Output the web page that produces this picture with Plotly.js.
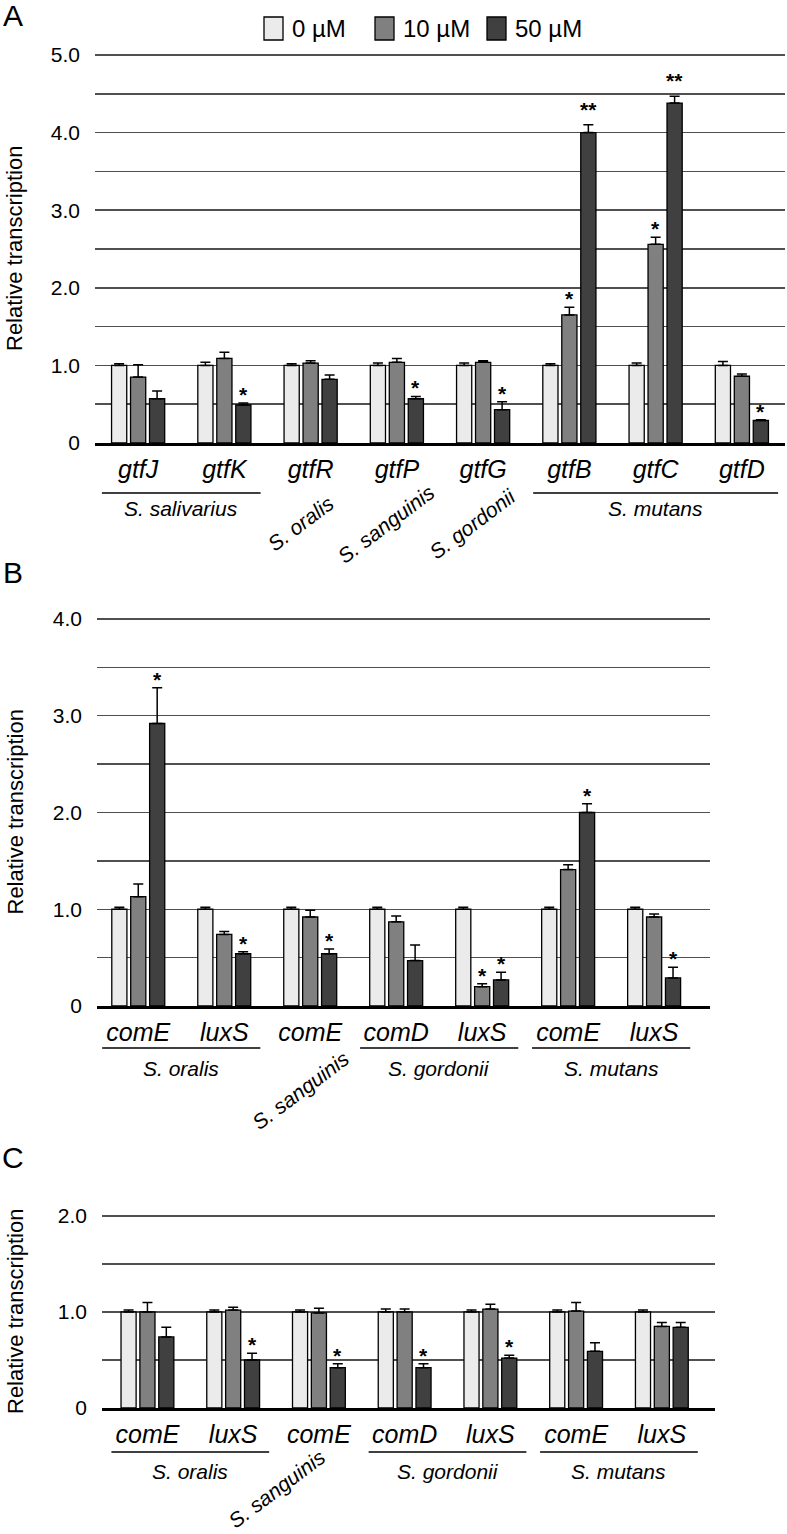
<!DOCTYPE html>
<html><head><meta charset="utf-8">
<script src="https://cdn.plot.ly/plotly-3.0.1.min.js"></script>
<style>body{margin:0;background:#fff}#chart{width:787px;height:1534px}</style>
</head><body><div id="chart"></div>
<script>
// ---------- data ----------
const seriesNames = ['0 µM', '10 µM', '50 µM'];
const seriesColors = ['#ebebeb', '#808080', '#404040'];

// Panel A
const genesA = ['gtfJ', 'gtfK', 'gtfR', 'gtfP', 'gtfG', 'gtfB', 'gtfC', 'gtfD'];
const a0 = [1.00, 1.00, 1.00, 1.00, 1.00, 1.00, 1.00, 1.00];
const a0err = [0.02, 0.04, 0.02, 0.03, 0.03, 0.02, 0.03, 0.05];
const a10 = [0.85, 1.09, 1.03, 1.04, 1.04, 1.65, 2.56, 0.86];
const a10err = [0.16, 0.08, 0.03, 0.05, 0.02, 0.10, 0.09, 0.03];
const a50 = [0.57, 0.49, 0.82, 0.57, 0.43, 4.00, 4.38, 0.29];
const a50err = [0.10, 0.025, 0.055, 0.03, 0.10, 0.10, 0.09, 0.01];
const sigA10 = ['', '', '', '', '', '*', '*', ''];
const sigA50 = ['', '*', '', '*', '*', '**', '**', '*'];
const speciesA = ['S. salivarius', 'S. oralis', 'S. sanguinis', 'S. gordonii', 'S. mutans'];
const speciesAStart = [0, 2, 3, 4, 5];
const speciesAEnd = [1, 2, 3, 4, 7];
const yTicksA = [0, 1, 2, 3, 4, 5];
const yTickTextA = ['0', '1.0', '2.0', '3.0', '4.0', '5.0'];

// Panel B
const genesB = ['comE', 'luxS', 'comE', 'comD', 'luxS', 'comE', 'luxS'];
const b0 = [1.00, 1.00, 1.00, 1.00, 1.00, 1.00, 1.00];
const b0err = [0.02, 0.02, 0.02, 0.02, 0.02, 0.02, 0.02];
const b10 = [1.13, 0.74, 0.92, 0.87, 0.20, 1.41, 0.92];
const b10err = [0.13, 0.03, 0.07, 0.06, 0.03, 0.05, 0.03];
const b50 = [2.92, 0.54, 0.54, 0.47, 0.27, 2.00, 0.29];
const b50err = [0.37, 0.02, 0.05, 0.16, 0.08, 0.09, 0.11];
const sigB10 = ['', '', '', '', '*', '', ''];
const sigB50 = ['*', '*', '*', '', '*', '*', '*'];
const speciesB = ['S. oralis', 'S. sanguinis', 'S. gordonii', 'S. mutans'];
const speciesBStart = [0, 2, 3, 5];
const speciesBEnd = [1, 2, 4, 6];
const yTicksB = [0, 1, 2, 3, 4];
const yTickTextB = ['0', '1.0', '2.0', '3.0', '4.0'];

// Panel C
const genesC = ['comE', 'luxS', 'comE', 'comD', 'luxS', 'comE', 'luxS'];
const c0 = [1.00, 1.00, 1.00, 1.00, 1.00, 1.00, 1.00];
const c0err = [0.02, 0.02, 0.02, 0.03, 0.02, 0.02, 0.02];
const c10 = [1.00, 1.02, 0.99, 1.00, 1.03, 1.01, 0.85];
const c10err = [0.10, 0.03, 0.05, 0.03, 0.05, 0.09, 0.04];
const c50 = [0.74, 0.50, 0.42, 0.42, 0.52, 0.59, 0.84];
const c50err = [0.10, 0.07, 0.04, 0.04, 0.03, 0.09, 0.05];
const sigC10 = ['', '', '', '', '', '', ''];
const sigC50 = ['', '*', '*', '*', '*', '', ''];
const speciesC = ['S. oralis', 'S. sanguinis', 'S. gordonii', 'S. mutans'];
const speciesCStart = [0, 2, 3, 5];
const speciesCEnd = [1, 2, 4, 6];
const yTicksC = [0, 1, 2];
const yTickTextC = ['0', '1.0', '2.0'];

const yTitle = 'Relative transcription';
const panelLetters = ['A', 'B', 'C'];

// ---------- layout helpers ----------
const W = 787, H = 1534;
const px = x => x / W;
const py = y => 1 - y / H;
const FONT = 'Liberation Sans, Arial, Helvetica, sans-serif';
const BARGAP = 0.34, GROUPGAP = 0.2;
const SLOT = (1 - BARGAP) / 3;
const YPAD = 0.02; // small headroom so the top gridline is drawn

const panels = [
  { genes: genesA, vals: [a0, a10, a50], errs: [a0err, a10err, a50err], sigs: [null, sigA10, sigA50],
    species: speciesA, sStart: speciesAStart, sEnd: speciesAEnd, yticks: yTicksA, yticktext: yTickTextA,
    box: { l: 95, r: 785, t: 55, b: 443 }, xr: [-0.5, 7.5], yr: [0, 5], letterY: 16, rotY: 524, rotDx: -10,
    lineY: 493, spY: 509 },
  { genes: genesB, vals: [b0, b10, b50], errs: [b0err, b10err, b50err], sigs: [null, sigB10, sigB50],
    species: speciesB, sStart: speciesBStart, sEnd: speciesBEnd, yticks: yTicksB, yticktext: yTickTextB,
    box: { l: 97, r: 710, t: 619, b: 1006 }, xr: [-0.48, 6.65], yr: [0, 4], letterY: 572, rotY: 1090, rotDx: -10,
    lineY: 1048, spY: 1068 },
  { genes: genesC, vals: [c0, c10, c50], errs: [c0err, c10err, c50err], sigs: [null, sigC10, sigC50],
    species: speciesC, sStart: speciesCStart, sEnd: speciesCEnd, yticks: yTicksC, yticktext: yTickTextC,
    box: { l: 102, r: 715, t: 1216, b: 1408 }, xr: [-0.53, 6.62], yr: [0, 2], letterY: 1157, rotY: 1488, rotDx: -42,
    lineY: 1452, spY: 1471 }
];

const traces = [];
const annotations = [];
const shapes = [];
const layout = {
  width: W, height: H, autosize: false,
  margin: { l: 0, r: 0, t: 0, b: 0, pad: 0 },
  paper_bgcolor: '#ffffff', plot_bgcolor: 'rgba(0,0,0,0)',
  barmode: 'group', bargap: BARGAP, bargroupgap: GROUPGAP,
  showlegend: false,
  font: { family: FONT, color: '#000', size: 20 }
};

panels.forEach((p, pi) => {
  const sfx = pi === 0 ? '' : String(pi + 1);
  const xref = 'x' + sfx, yref = 'y' + sfx;
  const xs = p.genes.map((g, i) => i);
  const ppu = (p.box.b - p.box.t) / (p.yr[1] - p.yr[0]);
  const topPx = p.box.t - YPAD * ppu;
  for (let k = 0; k < 3; k++) {
    traces.push({
      type: 'bar', x: xs, y: p.vals[k], name: seriesNames[k],
      xaxis: xref, yaxis: yref,
      marker: { color: seriesColors[k], line: { color: '#000', width: 1.3 } },
      error_y: { type: 'data', symmetric: false, array: p.errs[k], arrayminus: p.errs[k].map(() => 0),
                 color: '#000', thickness: 1.5, width: 5 },
      hoverinfo: 'skip'
    });
    if (p.sigs[k]) {
      p.sigs[k].forEach((s, i) => {
        if (!s) return;
        annotations.push({
          xref: xref, yref: yref, x: i + (k - 1) * SLOT, y: p.vals[k][i] + p.errs[k][i],
          text: s, showarrow: false, xanchor: 'center', yanchor: 'bottom',
          yshift: s.length > 1 ? 2 : -5,
          font: { family: FONT, size: 21, color: '#000', weight: 'bold' }
        });
      });
    }
  }
  layout['xaxis' + sfx] = {
    domain: [px(p.box.l), px(p.box.r)], anchor: yref, range: p.xr,
    tickmode: 'array', tickvals: xs, ticktext: p.genes.map(g => '<i>' + g + '</i>'),
    ticks: '', ticklabelstandoff: 2,
    showline: true, linecolor: '#000', linewidth: 3, showgrid: false, zeroline: false,
    tickfont: { family: FONT, size: 25, color: '#000' }, fixedrange: true
  };
  layout['yaxis' + sfx] = {
    domain: [py(p.box.b), py(topPx)], anchor: xref, range: [p.yr[0], p.yr[1] + YPAD],
    tickmode: 'array', tickvals: p.yticks, ticktext: p.yticktext,
    ticks: '', ticklabelstandoff: 14,
    showline: false, zeroline: false,
    showgrid: true, gridcolor: '#505050', gridwidth: 1.5,
    minor: { dtick: 0.5, tick0: 0, showgrid: true, gridcolor: '#505050', gridwidth: 1.5, ticks: '' },
    tickfont: { family: FONT, size: 21, color: '#000' }, fixedrange: true
  };
  // y title
  annotations.push({
    xref: 'paper', yref: 'paper', x: px(15), y: py((p.box.t + p.box.b) / 2),
    text: yTitle, textangle: -90, showarrow: false, xanchor: 'center', yanchor: 'middle',
    font: { family: FONT, size: 22, color: '#000' }
  });
  // panel letter
  annotations.push({
    xref: 'paper', yref: 'paper', x: px(13), y: py(p.letterY),
    text: panelLetters[pi], showarrow: false, xanchor: 'center', yanchor: 'middle',
    font: { family: FONT, size: 30, color: '#000' }
  });
  // species
  p.species.forEach((sp, si) => {
    const a = p.sStart[si], b = p.sEnd[si];
    if (a === b) {
      annotations.push({
        xref: xref, yref: 'paper', x: a, xshift: p.rotDx, y: py(p.rotY),
        text: '<i>' + sp + '</i>', textangle: -37, showarrow: false,
        xanchor: 'center', yanchor: 'middle',
        font: { family: FONT, size: 21, color: '#000' }
      });
    } else {
      shapes.push({
        type: 'line', xref: xref, yref: 'paper', x0: a - 0.42, x1: b + 0.42,
        y0: py(p.lineY), y1: py(p.lineY), line: { color: '#000', width: 1.5 }
      });
      annotations.push({
        xref: xref, yref: 'paper', x: (a + b) / 2, y: py(p.spY),
        text: '<i>' + sp + '</i>', showarrow: false, xanchor: 'center', yanchor: 'middle',
        font: { family: FONT, size: 21, color: '#000' }
      });
    }
  });
});

// custom legend (top of panel A)
const legBoxX = [264, 375, 487];
seriesNames.forEach((n, k) => {
  shapes.push({
    type: 'rect', xref: 'paper', yref: 'paper',
    x0: px(legBoxX[k]), x1: px(legBoxX[k] + 19), y0: py(40), y1: py(17),
    fillcolor: seriesColors[k], line: { color: '#000', width: 1.3 }
  });
  annotations.push({
    xref: 'paper', yref: 'paper', x: px(legBoxX[k] + 26), y: py(28.5),
    text: n, showarrow: false, xanchor: 'left', yanchor: 'middle',
    font: { family: FONT, size: 24, color: '#000' }
  });
});

layout.annotations = annotations;
layout.shapes = shapes;

Plotly.newPlot('chart', traces, layout, { staticPlot: true, displayModeBar: false });
</script>
</body></html>
